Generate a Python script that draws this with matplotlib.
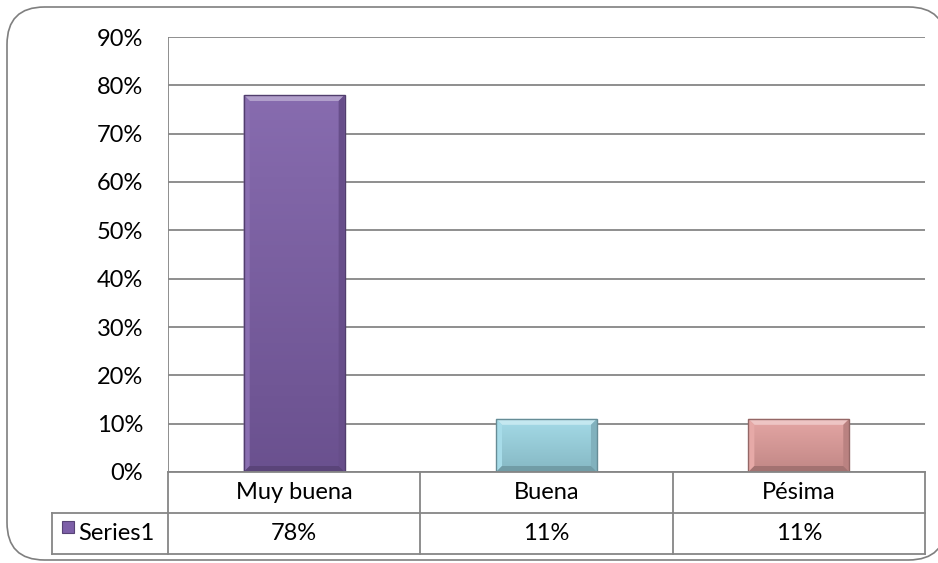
import numpy as np
import matplotlib.pyplot as plt
from matplotlib.patches import FancyBboxPatch, Polygon, Rectangle
from matplotlib.lines import Line2D
from matplotlib.colors import to_rgb

categories = ['Muy buena', 'Buena', 'Pésima']
values = [0.78, 0.11, 0.11]
value_labels = ['78%', '11%', '11%']
series_name = 'Series1'
bar_colors = ['#7d5fa8', '#9dd8e6', '#e39f9d']
yticks = [0, 0.1, 0.2, 0.3, 0.4, 0.5, 0.6, 0.7, 0.8, 0.9]

W, H = 938, 563
FS = 17
plt.rcParams['font.family'] = ['Lato', 'DejaVu Sans']

fig = plt.figure(figsize=(W / 100, H / 100), dpi=100)


def fx(px):
    return px / W


def fy(py):
    return 1 - py / H


# rounded outer frame
frame = FancyBboxPatch((fx(7), fy(560)), fx(946) - fx(7), fy(7) - fy(560),
                       boxstyle='round,pad=0,rounding_size=0.04',
                       transform=fig.transFigure, fc='white', ec='#7f7f7f',
                       lw=1.2, mutation_aspect=W / H, zorder=-5)
fig.add_artist(frame)

left, right, top, bottom = 168, 925, 37, 472
ax = fig.add_axes([fx(left), fy(bottom), fx(right) - fx(left), fy(top) - fy(bottom)])
ax.set_xlim(0, len(categories))
ax.set_ylim(0, 0.9)
ax.patch.set_alpha(0)
for s in ax.spines.values():
    s.set_visible(False)
ax.set_xticks([])
ax.set_yticks(yticks)
ax.set_yticklabels(['%d%%' % round(t * 100) for t in yticks], fontsize=FS)
ax.tick_params(axis='y', length=0, pad=18)
for t in yticks:
    ax.axhline(t, color='#868686', lw=1.3, zorder=1)
ax.axvline(0, color='#868686', lw=1.3, zorder=1)

bw = 0.4
dx = 6 * len(categories) / (right - left)
dy = 6 * 0.9 / (bottom - top)


def shade(c, f):
    r = np.array(to_rgb(c))
    if f > 0:
        return tuple(r + (1 - r) * f)
    return tuple(r * (1 + f))


for i, (v, c) in enumerate(zip(values, bar_colors)):
    x0, x1 = i + 0.5 - bw / 2, i + 0.5 + bw / 2
    # vertical gradient, lighter at the top
    grad = np.linspace(0, 1, 100)[:, None]
    top_c = np.array(shade(c, 0.08))
    bot_c = np.array(shade(c, -0.15))
    img = bot_c[None, None, :] * (1 - grad[..., None]) + top_c[None, None, :] * grad[..., None]
    im = ax.imshow(img, extent=[x0, x1, 0, v], origin='lower', aspect='auto', zorder=3)
    rect = Rectangle((x0, 0), bw, v, fc='none', ec=shade(c, -0.35), lw=1, zorder=5)
    ax.add_patch(rect)
    im.set_clip_path(rect)
    # bevel edges
    ax.add_patch(Polygon([(x0, v), (x1, v), (x1 - dx, v - dy), (x0 + dx, v - dy)],
                         fc=shade(c, 0.4), ec='none', zorder=4))
    ax.add_patch(Polygon([(x0, 0), (x0, v), (x0 + dx, v - dy), (x0 + dx, dy)],
                         fc=shade(c, 0.1), ec='none', zorder=4))
    ax.add_patch(Polygon([(x1, 0), (x1, v), (x1 - dx, v - dy), (x1 - dx, dy)],
                         fc=shade(c, -0.18), ec='none', zorder=4))
    ax.add_patch(Polygon([(x0, 0), (x1, 0), (x1 - dx, dy), (x0 + dx, dy)],
                         fc=shade(c, -0.28), ec='none', zorder=4))

# data table below the plot
tc = '#868686'
row1, row2 = 513, 554
col_x = [left + i * (right - left) / len(categories) for i in range(len(categories) + 1)]


def hline(x0, x1, y):
    fig.add_artist(Line2D([fx(x0), fx(x1)], [fy(y), fy(y)], color=tc, lw=1.3))


def vline(x, y0, y1):
    fig.add_artist(Line2D([fx(x), fx(x)], [fy(y0), fy(y1)], color=tc, lw=1.3))


hline(left, right, bottom)
hline(52, right, row1)
hline(52, right, row2)
vline(52, row1, row2)
for x in col_x:
    vline(x, bottom, row2)

for i, (cat, lab) in enumerate(zip(categories, value_labels)):
    cx = (col_x[i] + col_x[i + 1]) / 2
    fig.text(fx(cx), fy((bottom + row1) / 2), cat, ha='center', va='center', fontsize=FS)
    fig.text(fx(cx), fy((row1 + row2) / 2), lab, ha='center', va='center', fontsize=FS)

# legend key
key = Rectangle((fx(62), fy(533)), fx(12), fy(521) - fy(533), transform=fig.transFigure,
                fc=bar_colors[0], ec=shade(bar_colors[0], -0.3), lw=0.8)
fig.add_artist(key)
fig.text(fx(78), fy((row1 + row2) / 2), series_name, ha='left', va='center', fontsize=FS)

fig.savefig('out.png', dpi=100)
